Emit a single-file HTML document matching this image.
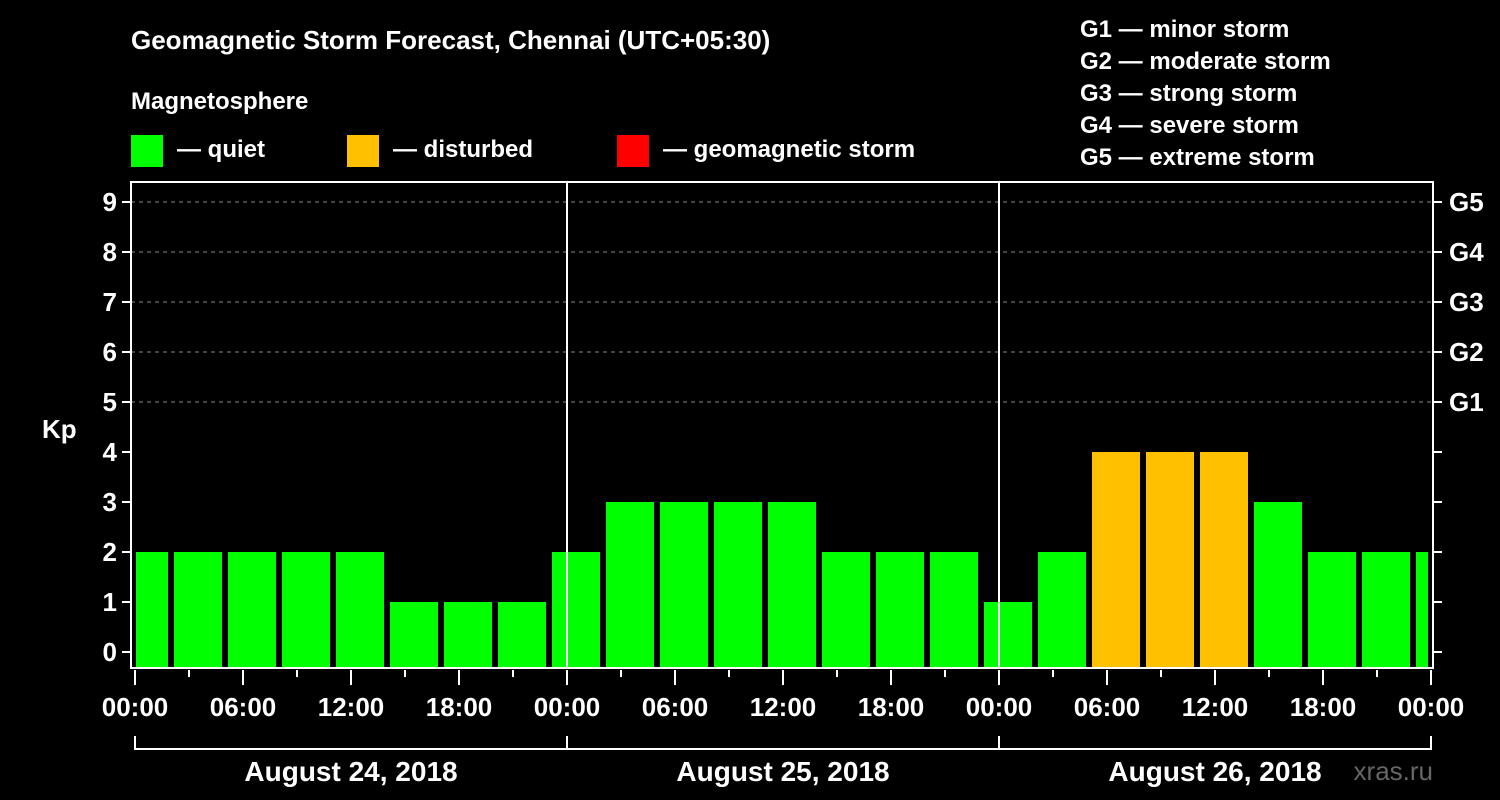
<!DOCTYPE html>
<html><head><meta charset="utf-8"><style>
html,body{margin:0;padding:0;background:#000;}
svg{display:block;font-family:"Liberation Sans",Arial,sans-serif;font-weight:bold;}
</style></head><body>
<svg id="chart" width="1500" height="800" viewBox="0 0 1500 800">
<rect width="1500" height="800" fill="#000"/>
<text x="131" y="49" fill="#fff" font-size="26">Geomagnetic Storm Forecast, Chennai (UTC+05:30)</text>
<text x="131" y="109" fill="#fff" font-size="24">Magnetosphere</text>
<g><rect x="131" y="135" width="32" height="32" fill="#00ff00"/><text x="177" y="157" fill="#fff" font-size="24">— quiet</text></g>
<g><rect x="347" y="135" width="32" height="32" fill="#ffc000"/><text x="393" y="157" fill="#fff" font-size="24">— disturbed</text></g>
<g><rect x="617" y="135" width="32" height="32" fill="#ff0000"/><text x="663" y="157" fill="#fff" font-size="24">— geomagnetic storm</text></g>
<g fill="#fff" font-size="24">
<text x="1080" y="37">G1 — minor storm</text>
<text x="1080" y="69">G2 — moderate storm</text>
<text x="1080" y="101">G3 — strong storm</text>
<text x="1080" y="133">G4 — severe storm</text>
<text x="1080" y="165">G5 — extreme storm</text>
</g>
<text x="42" y="438" fill="#fff" font-size="26">Kp</text>
<text x="1433" y="780" fill="#666" font-size="26" font-weight="normal" text-anchor="end">xras.ru</text>
<g id="grid"></g>
<g id="bars"></g>
<g id="axes"></g>
</svg>
<script>
const kpValues=[2,2,2,2,2,1,1,1,2,3,3,3,3,2,2,2,1,2,4,4,4,3,2,2,2];
const yTicks=[0,1,2,3,4,5,6,7,8,9];
const gLabels=["G1","G2","G3","G4","G5"];
const xTickLabels=["00:00","06:00","12:00","18:00","00:00","06:00","12:00","18:00","00:00","06:00","12:00","18:00","00:00"];
const dayLabels=["August 24, 2018","August 25, 2018","August 26, 2018"];
const firstBinOffsetHours=-1; // bins start at -1h (2h partial first bar)
const NS="http://www.w3.org/2000/svg";
const L=131,R=1433,T=182,B=668,X0=135,PX_H=18;
const y=v=>652-50*v;
const x=h=>X0+h*PX_H;
function mk(tag,attrs,parent){const e=document.createElementNS(NS,tag);for(const k in attrs)e.setAttribute(k,attrs[k]);parent.appendChild(e);return e;}
const grid=document.getElementById('grid'),bars=document.getElementById('bars'),axes=document.getElementById('axes');
for(let v=5;v<=9;v++){const l=mk('line',{x1:L,x2:R,y1:y(v),y2:y(v),stroke:'#888','stroke-dasharray':'4,4','stroke-width':1},grid);

}
kpValues.forEach((v,i)=>{
 const h0=firstBinOffsetHours+i*3;
 let x1=x(h0)+3,x2=x(h0+3)-3;
 x1=Math.max(x1,L+5);x2=Math.min(x2,R-5);
 const c=v>=5?'#ff0000':(v>=4?'#ffc000':'#00ff00');
 const r=mk('rect',{x:x1,y:y(v),width:x2-x1,height:B-y(v),fill:c},bars);
 
 
});
// frame
mk('rect',{x:L,y:T,width:R-L,height:B-T,fill:'none',stroke:'#fff','stroke-width':2},axes);
[1,2].forEach(d=>{const l=mk('line',{x1:x(d*24),x2:x(d*24),y1:T,y2:B,stroke:'#fff','stroke-width':2},axes);

});
yTicks.forEach(v=>{
 mk('line',{x1:L-9,x2:L,y1:y(v),y2:y(v),stroke:'#fff','stroke-width':2},axes);
 mk('line',{x1:R,x2:R+9,y1:y(v),y2:y(v),stroke:'#fff','stroke-width':2},axes);
 const t=mk('text',{x:L-14,y:y(v)+9,fill:'#fff','font-size':26,'text-anchor':'end'},axes);t.textContent=v;
 
 
});
gLabels.forEach((g,i)=>{const t=mk('text',{x:R+16,y:y(5+i)+9,fill:'#fff','font-size':26},axes);t.textContent=g;
 
 });
for(let h=0;h<=72;h+=3){const major=h%6===0;mk('line',{x1:x(h),x2:x(h),y1:B+2,y2:major?B+17:B+9,stroke:'#fff','stroke-width':2},axes);}
xTickLabels.forEach((s,i)=>{const t=mk('text',{x:x(i*6),y:716,fill:'#fff','font-size':26,'text-anchor':'middle'},axes);t.textContent=s;
 
 });
mk('line',{x1:x(0),x2:x(72),y1:749,y2:749,stroke:'#fff','stroke-width':2},axes);
for(let d=0;d<=3;d++)mk('line',{x1:x(d*24),x2:x(d*24),y1:736,y2:750,stroke:'#fff','stroke-width':2},axes);
dayLabels.forEach((s,i)=>{const t=mk('text',{x:x(i*24+12),y:781,fill:'#fff','font-size':28,'text-anchor':'middle'},axes);t.textContent=s;
 
 });
</script>
</body></html>
